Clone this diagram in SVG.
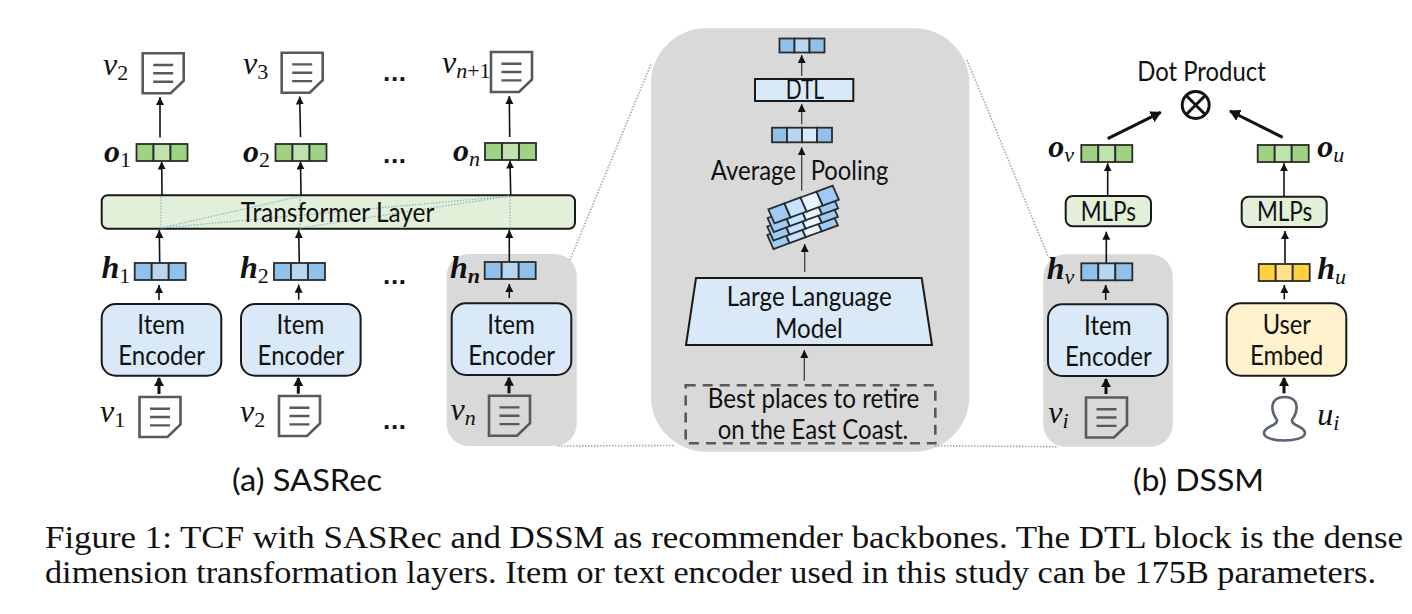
<svg xmlns="http://www.w3.org/2000/svg" width="1412" height="614" viewBox="0 0 1412 614">
<style>
text{font-family:"Lato","Open Sans","Liberation Sans",sans-serif;fill:#111;font-size:27px}
.m{font-family:"Liberation Serif",serif;font-style:italic;font-size:32px;fill:#111}
.b{font-weight:bold;font-family:"Liberation Serif",serif;font-style:italic;font-size:32px}
.s{font-size:22px;font-style:italic;font-weight:normal;font-family:"Liberation Serif",serif}
.n{font-style:normal}
.c{font-family:"Liberation Serif",serif;font-size:31px;fill:#111}
.cap{font-size:31px}
.dots{font-family:"Liberation Sans",sans-serif;font-weight:bold;font-size:26px}
.panel{fill:#D9D9D9}
.enc{fill:#DAE9F7;stroke:#1a1a1a;stroke-width:2}
.tf{fill:#E2F0D9;stroke:#1a1a1a;stroke-width:2}
.cell{stroke:#2b2b2b;stroke-width:1.8}
.gd{fill:#9FD384}.gl{fill:#C0E2AE}
.bd{fill:#8FC1EA}.bl{fill:#B7D7F1}.bx{fill:#DAE9F7}
.yd{fill:#FFD33D}.yl{fill:#FFE28A}
.doc{fill:#fff;stroke:#595959;stroke-width:2.6}
.docg{fill:none;stroke:#595959;stroke-width:2.6}
.dl{stroke:#595959;stroke-width:2.4;fill:none}
.a{stroke:#111;stroke-width:1.6;fill:none;marker-end:url(#ah)}
.t{stroke:#111;stroke-width:3;fill:none;marker-end:url(#at)}
.p{stroke:#111;stroke-width:3;fill:none;marker-end:url(#ap)}
.g{stroke:#333;stroke-width:1.2;fill:none;marker-end:url(#ah)}
.dot{stroke:#A6A6A6;stroke-width:1.6;stroke-dasharray:1.5 1.5;fill:none}
.tl{stroke:#8DB9C9;stroke-width:1.3;stroke-dasharray:1.5 1.5;fill:none}
</style>
<defs>
<marker id="ah" markerUnits="userSpaceOnUse" markerWidth="10" markerHeight="10" refX="8" refY="4" orient="auto"><path d="M0,0L8,4L0,8Z" fill="#111"/></marker>
<marker id="at" markerUnits="userSpaceOnUse" markerWidth="12" markerHeight="12" refX="8" refY="5" orient="auto"><path d="M0,0L9,5L0,10Z" fill="#111"/></marker>
<marker id="ap" markerUnits="userSpaceOnUse" markerWidth="14" markerHeight="14" refX="10" refY="6" orient="auto"><path d="M0,0L11,6L0,12Z" fill="#111"/></marker>
<g id="vg"><rect class="cell gd" width="17" height="17"/><rect class="cell gl" x="17" width="17" height="17"/><rect class="cell gd" x="34" width="17" height="17"/></g>
<g id="vb"><rect class="cell bd" width="17" height="17"/><rect class="cell bl" x="17" width="17" height="17"/><rect class="cell bd" x="34" width="17" height="17"/></g>
<g id="vy"><rect class="cell yd" width="17" height="17"/><rect class="cell yl" x="17" width="17" height="17"/><rect class="cell yd" x="34" width="17" height="17"/></g>
<g id="dlines"><path class="dl" d="M10.5,11.7H30.5M10.5,20H30.5M10.5,28.4H30.5"/></g>
<g id="doc"><path class="doc" d="M0,0H41V27.5L28,40H0Z"/><use href="#dlines"/></g>
<g id="docg"><path class="docg" d="M0,0H41V27.5L28,40H0Z"/><use href="#dlines"/></g>
<g id="layer"><path class="cell" fill="#9DCBF5" d="M0,0L16.1,-5.9L22.3,8.1L6.2,14Z"/><path class="cell" fill="#C5E2FF" d="M16.1,-5.9L32.2,-11.8L38.4,2.2L22.3,8.1Z"/><path class="cell" fill="#E6F5FF" d="M32.2,-11.8L48.3,-17.7L54.5,-3.7L38.4,2.2Z"/><path class="cell" fill="#9DCBF5" d="M48.3,-17.7L64.4,-23.6L70.6,-9.6L54.5,-3.7Z"/></g>
</defs>

<rect width="1412" height="614" fill="#fff"/>

<g id="panels">
<rect class="panel" x="446.7" y="254" width="130" height="192" rx="22"/>
<rect class="panel" x="651" y="28.3" width="318.3" height="423.4" rx="55"/>
<rect class="panel" x="1043.3" y="254.3" width="129.4" height="192.4" rx="22"/>
<path class="dot" d="M570,260L651,64M558,446L675,445.5M967,60L1048,256M935,445.7L1057,446.7"/>
</g>

<g id="transformer-layer"><rect class="tf" x="101.7" y="195.3" width="473.3" height="33.4" rx="6"/><path class="tl" d="M161,228V196M161,228L301,196M161,228L510,196M300,228V196M300,228L510,196M510,228V196"/><text x="240.7" y="221.7" textLength="193.6" lengthAdjust="spacingAndGlyphs">Transformer Layer</text></g>

<g id="connectors">
<path class="a" d="M160,137.5V97"/><path class="a" d="M300.5,137L299.7,96.5"/><path class="a" d="M509.7,137L509.3,96"/>
<path class="a" d="M162,195L161.7,161.5"/><path class="a" d="M301,195L300.5,161.5"/><path class="a" d="M510.7,195L510,160.5"/>
<path class="a" d="M159.7,262L159.3,230"/><path class="a" d="M299.3,262L298.7,230"/><path class="a" d="M509.3,262V230"/>
<path class="a" d="M159,300V285"/><path class="a" d="M298.7,299.7V284.7"/><path class="a" d="M509.3,298V284"/>
<path class="t" d="M159,394V378"/><path class="t" d="M298.3,393.7V378"/><path class="t" d="M509,393.3V377.7"/>
<path class="g" d="M801.7,76V55"/><path class="g" d="M801.7,124.3V104"/><path class="g" d="M801.7,190.7V147.3"/><path class="g" d="M804.7,272V244"/><path class="g" d="M804.3,380.7V350"/>
<path class="a" d="M1107.7,196V163.3"/><path class="a" d="M1284,196.7V163.3"/><path class="a" d="M1106.3,263.3V231.7"/><path class="a" d="M1285,263V231"/>
<path class="a" d="M1105.7,300V285"/><path class="a" d="M1284.3,299.3V285"/>
<path class="t" d="M1106,394V379"/><path class="t" d="M1284,393.3V378"/>
<path class="p" d="M1107.7,138.7L1160.7,112.3"/><path class="p" d="M1282.7,137.3L1230,111"/>
</g>

<g id="sasrec-top">
<use href="#doc" x="142.7" y="53.3"/><use href="#doc" x="281.7" y="52.7"/><use href="#doc" x="491" y="52"/>
<text class="m" x="103" y="75">v<tspan class="s n" dy="5">2</tspan></text>
<text class="m" x="243" y="74">v<tspan class="s n" dy="5">3</tspan></text>
<text class="m" x="442" y="73">v<tspan class="s" dy="5">n</tspan><tspan class="s n">+1</tspan></text>
<text class="dots" x="383" y="81" textLength="23">...</text>
<use href="#vg" x="136.5" y="144"/><use href="#vg" x="275.5" y="144"/><use href="#vg" x="485" y="143"/>
<text class="b" x="104" y="162">o<tspan class="s n" dy="5">1</tspan></text>
<text class="b" x="243" y="162">o<tspan class="s n" dy="5">2</tspan></text>
<text class="b" x="453" y="161">o<tspan class="s" dy="5">n</tspan></text>
<text class="dots" x="383" y="163" textLength="23">...</text>
</g>

<g id="sasrec-bottom">
<use href="#vb" x="134.7" y="263"/><use href="#vb" x="274" y="263"/><use href="#vb" x="484.7" y="262"/>
<text class="b" x="101.5" y="278">h<tspan class="s n" dy="5">1</tspan></text>
<text class="b" x="240" y="278">h<tspan class="s n" dy="5">2</tspan></text>
<text class="b" x="450" y="278">h<tspan class="s" style="font-weight:bold" dy="5">n</tspan></text>
<text class="dots" x="383" y="284" textLength="23">...</text>
<text class="dots" x="383" y="429" textLength="23">...</text>
<use href="#doc" x="139.5" y="397"/><use href="#doc" x="279" y="396"/><use href="#docg" x="489" y="395.7"/>
<text class="m" x="100" y="422">v<tspan class="s n" dy="5">1</tspan></text>
<text class="m" x="240" y="422">v<tspan class="s n" dy="5">2</tspan></text>
<text class="m" x="450.5" y="420">v<tspan class="s" dy="5">n</tspan></text>
</g>

<g id="item-encoder-1"><rect class="enc" x="101.7" y="304" width="119.6" height="71.7" rx="14"/><text x="137.3" y="334.3" textLength="47.7" lengthAdjust="spacingAndGlyphs">Item</text><text x="118.3" y="365.3" textLength="86.7" lengthAdjust="spacingAndGlyphs">Encoder</text></g>
<g id="item-encoder-2"><rect class="enc" x="241" y="304" width="119.6" height="71.7" rx="14"/><text x="276.6" y="334.3" textLength="47.7" lengthAdjust="spacingAndGlyphs">Item</text><text x="257.6" y="365.3" textLength="86.7" lengthAdjust="spacingAndGlyphs">Encoder</text></g>
<g id="item-encoder-n"><rect class="enc" x="451.7" y="303.3" width="119.6" height="71.7" rx="14"/><text x="487.3" y="333.7" textLength="47.7" lengthAdjust="spacingAndGlyphs">Item</text><text x="468.3" y="364.7" textLength="86.7" lengthAdjust="spacingAndGlyphs">Encoder</text></g>

<g id="llm-detail">
<g id="out-vector"><rect class="cell bd" x="779.5" y="38.5" width="15" height="14"/><rect class="cell bl" x="794.5" y="38.5" width="15" height="14"/><rect class="cell bd" x="809.5" y="38.5" width="15" height="14"/></g>
<g id="dtl"><rect class="enc" x="755" y="79" width="98.3" height="22"/><text x="785.7" y="99" textLength="38.3" lengthAdjust="spacingAndGlyphs">DTL</text></g>
<g id="pool-vector"><rect class="cell bd" x="772" y="127.7" width="15" height="14.6"/><rect class="cell bl" x="787" y="127.7" width="15" height="14.6"/><rect class="cell bx" x="802" y="127.7" width="15" height="14.6"/><rect class="cell bd" x="817" y="127.7" width="15" height="14.6"/></g>
<text x="710.7" y="180.3" textLength="85.3" lengthAdjust="spacingAndGlyphs">Average</text>
<text x="810.7" y="180.3" textLength="77.6" lengthAdjust="spacingAndGlyphs">Pooling</text>
<g id="token-stack"><use href="#layer" x="767.3" y="235"/><use href="#layer" x="767.3" y="226.5"/><use href="#layer" x="767.6" y="218"/><use href="#layer" x="768.3" y="209.3"/></g>
<g id="llm"><path class="enc" d="M696,278H921.7L932,345H686Z"/><text x="726.7" y="306" textLength="165" lengthAdjust="spacingAndGlyphs">Large Language</text><text x="775" y="337.7" textLength="67.7" lengthAdjust="spacingAndGlyphs">Model</text></g>
<g id="input-text"><rect x="685.7" y="385.3" width="249.6" height="58" fill="none" stroke="#595959" stroke-width="2.6" stroke-dasharray="10 7"/><text x="707.7" y="407.7" textLength="211.6" lengthAdjust="spacingAndGlyphs">Best places to retire</text><text x="717.7" y="439.3" textLength="190.6" lengthAdjust="spacingAndGlyphs">on the East Coast.</text></g>
</g>

<g id="dssm-item"><rect class="enc" x="1048" y="304.3" width="119.7" height="71.7" rx="14"/><text x="1084" y="334.6" textLength="47.7" lengthAdjust="spacingAndGlyphs">Item</text><text x="1065" y="365.6" textLength="86.7" lengthAdjust="spacingAndGlyphs">Encoder</text></g>
<g id="dssm-user"><rect x="1226.7" y="303.3" width="119.6" height="72.4" rx="14" fill="#FFF2CC" stroke="#1a1a1a" stroke-width="2"/><text x="1262.7" y="334" textLength="48.3" lengthAdjust="spacingAndGlyphs">User</text><text x="1250" y="365" textLength="73.3" lengthAdjust="spacingAndGlyphs">Embed</text></g>
<g id="mlp-left"><rect class="tf" x="1065.7" y="196" width="85.3" height="30.3" rx="7"/><text x="1080.7" y="221" textLength="55.3" lengthAdjust="spacingAndGlyphs">MLPs</text></g>
<g id="mlp-right"><rect class="tf" x="1241.7" y="196.7" width="85" height="30.3" rx="7"/><text x="1257" y="221" textLength="55.3" lengthAdjust="spacingAndGlyphs">MLPs</text></g>

<g id="dssm-vectors">
<use href="#vg" x="1081.3" y="145"/><use href="#vg" x="1257.7" y="145"/><use href="#vb" x="1081.3" y="263.3"/><use href="#vy" x="1258.7" y="264"/>
<text class="b" x="1048.3" y="157">o<tspan class="s" dy="5">v</tspan></text>
<text class="b" x="1317.3" y="157">o<tspan class="s" dy="5">u</tspan></text>
<text class="b" x="1046.7" y="279.3">h<tspan class="s" dy="5">v</tspan></text>
<text class="b" x="1317.3" y="279">h<tspan class="s" dy="5">u</tspan></text>
</g>
<g id="dssm-inputs">
<use href="#docg" x="1086" y="397.5"/>
<text class="m" x="1048.3" y="423">v<tspan class="s" dy="5">i</tspan></text>
<path d="M1277,420C1270,410 1270,397 1284.5,397C1299,397 1299,410 1292,420C1291,426 1305,426 1305,433C1305,438 1295,440.5 1284.5,440.5C1274,440.5 1264,438 1264,433C1264,426 1278,426 1277,420Z" fill="none" stroke="#5A6472" stroke-width="2.6"/>
<text class="m" x="1317.3" y="425">u<tspan class="s" dy="5">i</tspan></text>
</g>
<g id="dot-product"><text x="1137.3" y="81" textLength="128.4" lengthAdjust="spacingAndGlyphs">Dot Product</text><circle cx="1195.7" cy="105" r="13.5" fill="none" stroke="#111" stroke-width="3"/><path d="M1186.2,95.5L1205.2,114.5M1205.2,95.5L1186.2,114.5" stroke="#111" stroke-width="3"/></g>

<text class="cap" x="232" y="491" textLength="150" lengthAdjust="spacingAndGlyphs">(a) SASRec</text>
<text class="cap" x="1133" y="491" textLength="131" lengthAdjust="spacingAndGlyphs">(b) DSSM</text>
<text class="c" x="45" y="547.5" textLength="1358" lengthAdjust="spacingAndGlyphs">Figure 1: TCF with SASRec and DSSM as recommender backbones. The DTL block is the dense</text>
<text class="c" x="45" y="582.5" textLength="1331" lengthAdjust="spacingAndGlyphs">dimension transformation layers. Item or text encoder used in this study can be 175B parameters.</text>
</svg>
